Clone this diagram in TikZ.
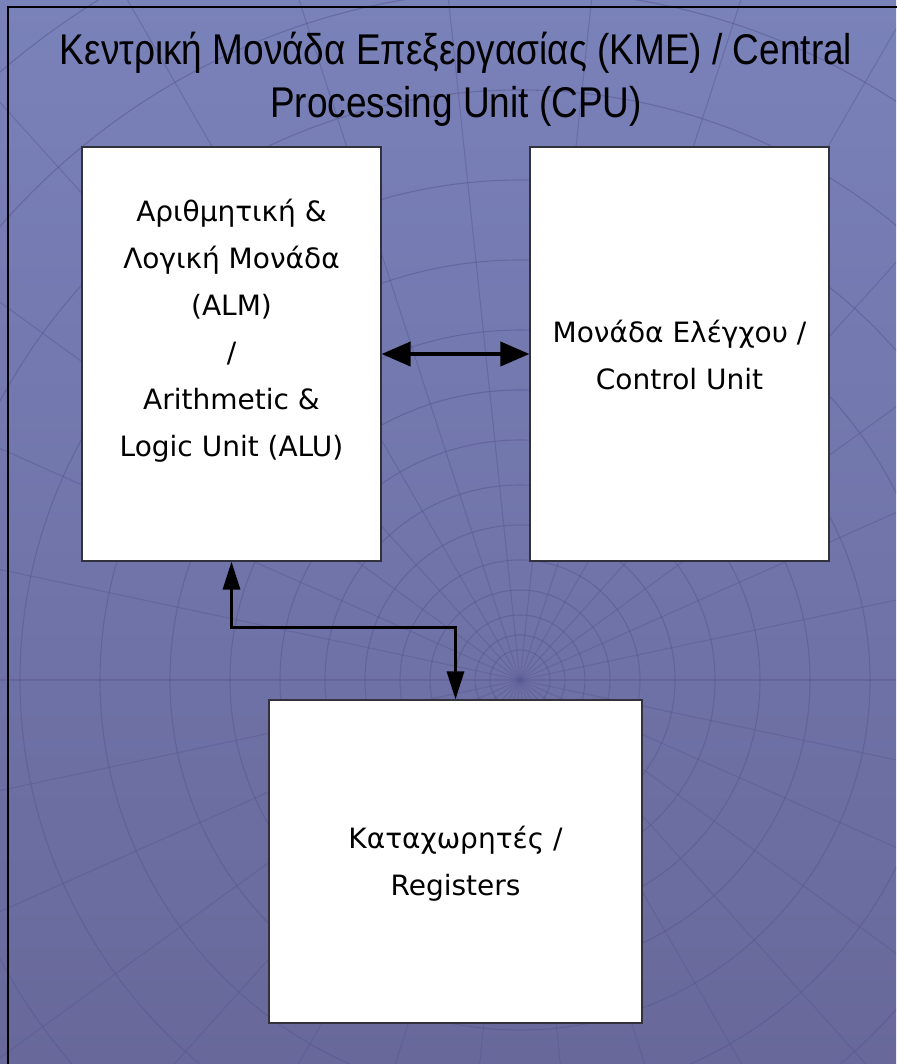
\documentclass[tikz,border=0pt]{standalone}
\usepackage{fontspec}
\setmainfont{Liberation Sans}
\newfontfamily\titlefont[FakeStretch=0.86]{Liberation Sans}
\newfontfamily\boxfont{DejaVu Sans}
\usetikzlibrary{arrows.meta}
\definecolor{bgtop}{RGB}{122,130,186}
\definecolor{bgbot}{RGB}{104,104,154}
\definecolor{mesh}{RGB}{88,88,146}
\definecolor{boxline}{RGB}{50,50,60}
\tikzset{
  unitbox/.style={draw=boxline, line width=1.2pt, fill=white, inner sep=0pt},
  boxtext/.style={align=center, font=\boxfont\fontsize{28}{47}\selectfont, text=black},
  link/.style={line width=4pt, black},
}
\begin{document}
\begin{tikzpicture}[x=1pt,y=-1pt]
\useasboundingbox (0,0) rectangle (896,1064);
\shade[top color=bgtop, bottom color=bgbot] (0,0) rectangle (896,1064);
\begin{scope}
\clip (0,0) rectangle (896,1064);
\foreach \r in {30,45,65,90,120,155,195,240,290,350,420,500,590,690,800}
  \draw[mesh, opacity=0.55, line width=1.1pt] (520,680) circle (\r);
\foreach \a in {0,12,...,348}
  \draw[mesh, opacity=0.45, line width=1.1pt] (520,680) -- ++(\a:1200);
\end{scope}
\draw[black, line width=2pt] (8,7) rectangle (905,1075);
\node[align=center, font=\titlefont\fontsize{43}{53}\selectfont] (title) at (456,79)
  {Κεντρική Μονάδα Επεξεργασίας (ΚΜΕ) / Central\\Processing Unit (CPU)};
\node[unitbox, minimum width=299pt, minimum height=414pt] (alu) at (231.5,354) {};
\node[unitbox, minimum width=299pt, minimum height=414pt] (cu) at (679.5,354) {};
\node[unitbox, minimum width=373pt, minimum height=323pt] (reg) at (455.5,861.5) {};
\node[boxtext] (alut) at (231.5,331) {Αριθμητική \&\\Λογική Μονάδα\\(ALM)\\/\\Arithmetic \&\\Logic Unit (ALU)};
\node[boxtext] (cut) at (679.5,355) {Μονάδα Ελέγχου /\\Control Unit};
\node[boxtext] (regt) at (455.5,864) {Καταχωρητές /\\Registers};
\draw[link, {Triangle[length=29pt,width=24pt]}-{Triangle[length=29pt,width=24pt]}] (alu.east) -- (cu.west);
\draw[link, line width=3.2pt, {Triangle[length=28pt,width=17pt]}-{Triangle[length=28pt,width=17pt]}]
  (alu.south) -- ++(0,66) -| (reg.north);
\end{tikzpicture}
\end{document}
